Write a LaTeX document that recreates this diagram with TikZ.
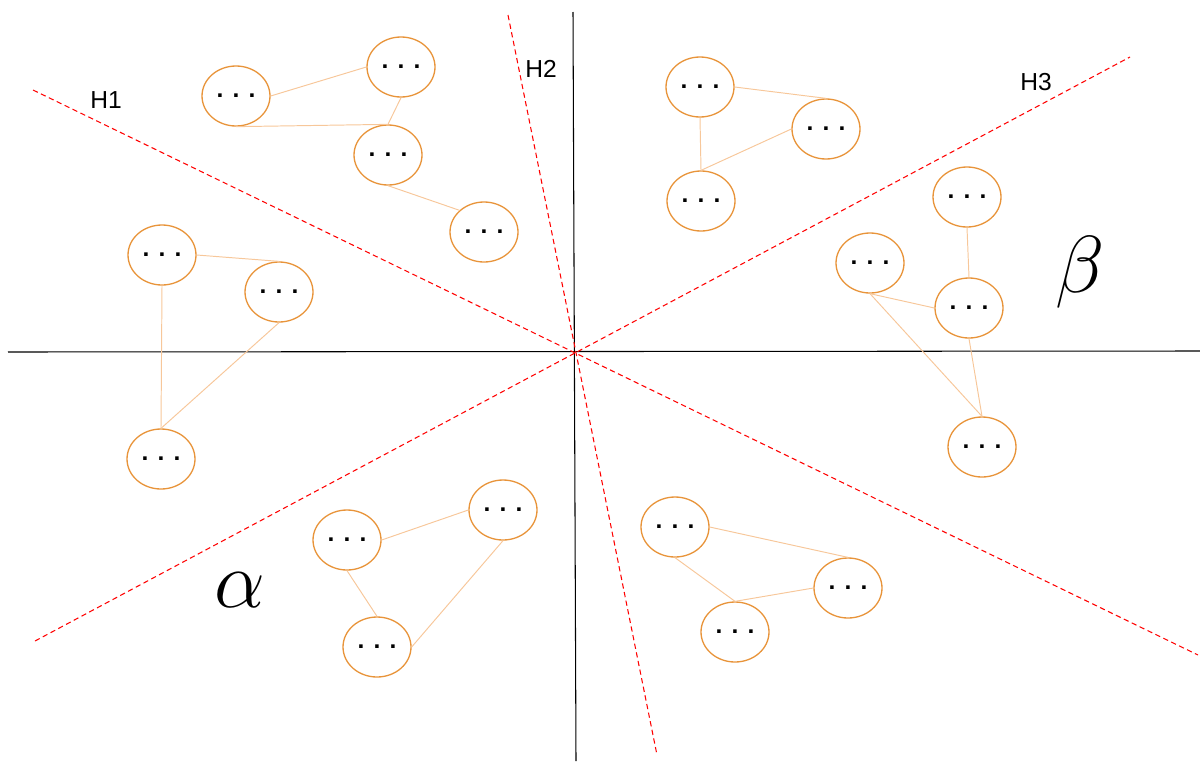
\RequirePackage{fix-cm}
\documentclass[tikz,border=0pt]{standalone}
\usepackage{fontspec}
\setmainfont{Liberation Sans}
\usetikzlibrary{shapes.geometric}
\definecolor{ellcol}{HTML}{E8943A}
\definecolor{edgecol}{HTML}{F7C79A}
\tikzset{
  cl/.style={ellipse,draw=ellcol,line width=0.75pt,minimum width=1.36cm,minimum height=1.2cm,inner sep=0pt,
     font=\fontsize{14}{14}\selectfont\bfseries},
  ed/.style={draw=edgecol,line width=0.55pt},
  axis/.style={draw=black,line width=0.6pt},
  hyp/.style={draw=red,line width=0.6pt,dash pattern=on 3pt off 2pt},
  hl/.style={font=\fontsize{14}{14}\selectfont},
  gl/.style={font=\fontsize{46}{46}\selectfont}
}
\begin{document}
\begin{tikzpicture}[x=0.02cm,y=-0.02cm]
\useasboundingbox (0,0) rectangle (1200,761);
% axes
\coordinate (xl) at (8,352);
\coordinate (xr) at (1200,351);
\coordinate (yt) at (573,12);
\coordinate (yb) at (576,761);
\draw[axis] (xl) -- (xr);
\draw[axis] (yt) -- (yb);
% hyperplanes
\coordinate (h1a) at (33,90);
\coordinate (h1b) at (1198,655);
\coordinate (h2a) at (508,15);
\coordinate (h2b) at (657,755);
\coordinate (h3a) at (35,641);
\coordinate (h3b) at (1130,57);
\draw[hyp] (h1a) -- (h1b);
\draw[hyp] (h2a) -- (h2b);
\draw[hyp] (h3a) -- (h3b);
\node[hl] (H1) at (106,100) {H1};
\node[hl] (H2) at (541,69) {H2};
\node[hl] (H3) at (1036,82) {H3};
\node[gl] (alpha) at (240,590) {$\alpha$};
\node[gl] (beta) at (1080,272) {$\beta$};
% clusters
\node[cl] (A1) at (236,96) {. . .};
\node[cl] (A2) at (401,67) {. . .};
\node[cl] (A3) at (388,155) {. . .};
\node[cl] (A4) at (484,232) {. . .};
\draw[ed] (A1.east) -- (A2.west);
\draw[ed] (A1.south) -- (A3.north);
\draw[ed] (A2.south) -- (A3.north);
\draw[ed] (A3.south) -- (A4.north west);

\node[cl] (B1) at (162,255) {. . .};
\node[cl] (B2) at (279,292) {. . .};
\node[cl] (B3) at (161,459) {. . .};
\draw[ed] (B1.east) -- (B2.north);
\draw[ed] (B1.south) -- (B3.north);
\draw[ed] (B2.south) -- (B3.north);

\node[cl] (C1) at (347,540) {. . .};
\node[cl] (C2) at (503,510) {. . .};
\node[cl] (C3) at (377,647) {. . .};
\draw[ed] (C1.east) -- (C2.west);
\draw[ed] (C1.south) -- (C3.north);
\draw[ed] (C2.south) -- (C3.east);

\node[cl] (D1) at (700,87) {. . .};
\node[cl] (D2) at (826,129) {. . .};
\node[cl] (D3) at (701,201) {. . .};
\draw[ed] (D1.east) -- (D2.north);
\draw[ed] (D1.south) -- (D3.north);
\draw[ed] (D2.west) -- (D3.north);

\node[cl] (E1) at (967,197) {. . .};
\node[cl] (E2) at (870,263) {. . .};
\node[cl] (E3) at (969,308) {. . .};
\node[cl] (E4) at (982,447) {. . .};
\draw[ed] (E1.south) -- (E3.north);
\draw[ed] (E2.south) -- (E3.west);
\draw[ed] (E2.south) -- (E4.north);
\draw[ed] (E3.south) -- (E4.north);

\node[cl] (F1) at (675,527) {. . .};
\node[cl] (F2) at (848,588) {. . .};
\node[cl] (F3) at (735,632) {. . .};
\draw[ed] (F1.east) -- (F2.north);
\draw[ed] (F1.south) -- (F3.north);
\draw[ed] (F3.north) -- (F2.west);
\end{tikzpicture}
\end{document}
